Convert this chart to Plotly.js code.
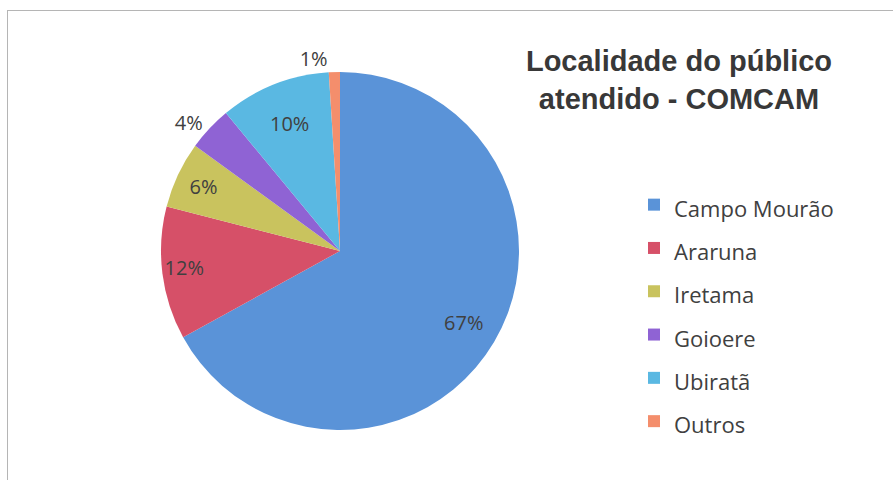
<!DOCTYPE html>
<html>
<head>
<meta charset="utf-8">
<script src="https://cdn.plot.ly/plotly-3.0.1.min.js"></script>
<style>
html,body{margin:0;padding:0;background:#fff;}
#frame{position:absolute;left:7px;top:10px;width:900px;height:480px;border-left:1px solid #b5b5b5;border-top:1px solid #b5b5b5;}
#chart{position:absolute;left:0;top:0;width:893px;height:480px;}
</style>
</head>
<body>
<div id="frame"></div>
<div id="chart"></div>
<script>
const categories = ["Campo Mourão", "Araruna", "Iretama", "Goioere", "Ubiratã", "Outros"];
const values = [67, 12, 6, 4, 10, 1];
const colors = ["#5a93d8", "#d65068", "#c9c35e", "#8f63d4", "#5ab8e2", "#f48e6c"];
const textPositions = ["inside", "inside", "inside", "outside", "inside", "outside"];

const FONT = "'Open Sans', Lato, sans-serif";
const NB = "\u00a0";
const textTemplates = [
  NB + "<br>" + NB + "<br>" + NB.repeat(18) + "%{percent}",
  "%{percent}" + NB.repeat(10), "%{percent}", "%{percent}", "%{percent}", "%{percent}"
];

const trace = {
  type: "pie",
  labels: categories.map(c => "<span style='font-size:22px'>" + c + "</span>"),
  values: values,
  sort: false,
  direction: "clockwise",
  rotation: 0,
  marker: {colors: colors, line: {width: 0}},
  texttemplate: textTemplates,
  textposition: textPositions,
  insidetextorientation: "horizontal",
  textfont: {family: FONT, size: 20, color: "#404040"},
  insidetextfont: {family: FONT, size: 20, color: "#404040"},
  outsidetextfont: {family: FONT, size: 20, color: "#404040"},
  domain: {x: [161/893, 519/893], y: [50/480, 408/480]},
  hoverinfo: "label+percent"
};

const layout = {
  width: 893, height: 480,
  margin: {l: 0, r: 0, t: 0, b: 0},
  paper_bgcolor: "rgba(0,0,0,0)",
  plot_bgcolor: "rgba(0,0,0,0)",
  showlegend: true,
  title: {
    text: "<b>Localidade do público<br>atendido - COMCAM</b>",
    font: {family: "'Liberation Sans', Arial, sans-serif", size: 29, color: "#383838"},
    x: 679/893, xanchor: "center",
    y: 1 - 71/480, yanchor: "top"
  },
  legend: {
    x: 634/893, xanchor: "left",
    y: 1 - 178/480, yanchor: "top",
    font: {family: FONT, size: 31, color: "#404040"},
    bgcolor: "rgba(0,0,0,0)"
  }
};

Plotly.newPlot("chart", [trace], layout, {displayModeBar: false, staticPlot: true});
</script>
</body>
</html>
